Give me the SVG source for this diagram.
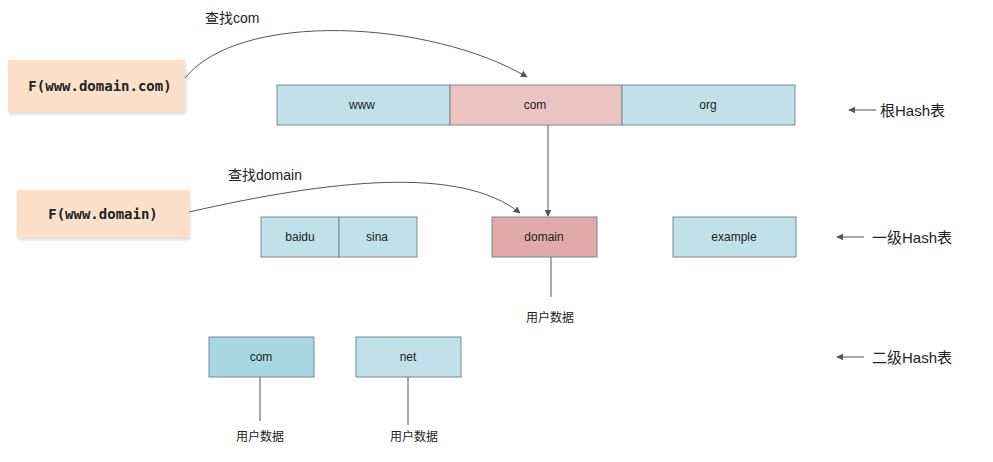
<svg xmlns="http://www.w3.org/2000/svg" width="993" height="462" viewBox="0 0 993 462">
<defs>
<marker id="ah" viewBox="0 0 10 10" refX="9" refY="5" markerWidth="7" markerHeight="7" orient="auto" markerUnits="userSpaceOnUse"><path d="M0,0 L10,5 L0,10 z" fill="#555"/></marker>
<filter id="sh" x="-10%" y="-10%" width="130%" height="140%"><feDropShadow dx="1" dy="2" stdDeviation="1.5" flood-color="#000" flood-opacity="0.15"/></filter>
<style>
.cell{stroke:#7a8a90;stroke-width:1}
.blue{fill:#c0e0ea}
.blue2{fill:#a9d6e3}
.pink{fill:#ecc3c3}
.pink2{fill:#e1a9a9}
.peach{fill:#fde0c9}
.t{font-family:"Liberation Sans",Arial,sans-serif;font-size:12px;fill:#222;text-anchor:middle;dominant-baseline:central}
.f{font-family:"DejaVu Sans Mono","Liberation Mono",monospace;font-size:14px;font-weight:bold;fill:#222;text-anchor:middle;dominant-baseline:central}
.cn{font-family:"Liberation Sans","Noto Sans CJK SC",sans-serif;font-size:12px;fill:#222;dominant-baseline:central}
.cn14{font-family:"Liberation Sans","Noto Sans CJK SC",sans-serif;font-size:14px;fill:#222;dominant-baseline:central}
.lbl{font-family:"Liberation Sans","Noto Sans CJK SC",sans-serif;font-size:15px;fill:#222;dominant-baseline:central}
.ln{fill:none;stroke:#555;stroke-width:1}
</style>
</defs>
<rect width="993" height="462" fill="#fff"/>

<g id="f1"><rect x="8" y="60" width="177" height="52" class="peach" filter="url(#sh)"/><text x="100" y="86" class="f">F(www.domain.com)</text></g>
<g id="f2"><rect x="17" y="190" width="172" height="48" class="peach" filter="url(#sh)"/><text x="103" y="214" class="f">F(www.domain)</text></g>

<g id="root">
<rect x="277" y="85" width="173" height="40" class="cell blue"/><text x="362" y="105" class="t">www</text>
<rect x="450" y="85" width="172" height="40" class="cell pink"/><text x="535" y="105" class="t">com</text>
<rect x="622" y="85" width="173" height="40" class="cell blue"/><text x="708" y="105" class="t">org</text>
</g>
<g id="l1a">
<rect x="261" y="217" width="78" height="40" class="cell blue"/><text x="300" y="237" class="t">baidu</text>
<rect x="339" y="217" width="78" height="40" class="cell blue"/><text x="377" y="237" class="t">sina</text>
</g>
<g id="domain"><rect x="492" y="217" width="105" height="40" class="cell pink2"/><text x="544" y="237" class="t">domain</text></g>
<g id="example"><rect x="673" y="217" width="123" height="40" class="cell blue"/><text x="734" y="237" class="t">example</text></g>
<g id="com2"><rect x="209" y="337" width="105" height="40" class="cell blue2"/><text x="261" y="357" class="t">com</text></g>
<g id="net"><rect x="356" y="337" width="105" height="40" class="cell blue"/><text x="408" y="357" class="t">net</text></g>

<g id="connectors">
<path d="M185,78 C240,10 430,20 527,77" class="ln" marker-end="url(#ah)"/>
<path d="M189,212 C330,180 460,165 520,213" class="ln" marker-end="url(#ah)"/>
<line x1="548" y1="125" x2="548" y2="216" class="ln" marker-end="url(#ah)"/>
<line x1="551" y1="257" x2="551" y2="297" class="ln"/>
<line x1="260" y1="377" x2="260" y2="421" class="ln"/>
<line x1="408" y1="377" x2="408" y2="425" class="ln"/>
<line x1="876" y1="110" x2="849" y2="110" class="ln" marker-end="url(#ah)"/>
<line x1="864" y1="237" x2="837" y2="237" class="ln" marker-end="url(#ah)"/>
<line x1="864" y1="357" x2="837" y2="357" class="ln" marker-end="url(#ah)"/>
</g>

<g id="labels">
<text x="205" y="18" class="cn14">查找com</text>
<text x="228" y="175" class="cn14">查找domain</text>
<text x="550" y="318" class="cn" text-anchor="middle">用户数据</text>
<text x="260" y="437" class="cn" text-anchor="middle">用户数据</text>
<text x="414" y="437" class="cn" text-anchor="middle">用户数据</text>
<text x="880" y="110" class="lbl">根Hash表</text>
<text x="872" y="237" class="lbl">一级Hash表</text>
<text x="872" y="357" class="lbl">二级Hash表</text>
</g>
</svg>
